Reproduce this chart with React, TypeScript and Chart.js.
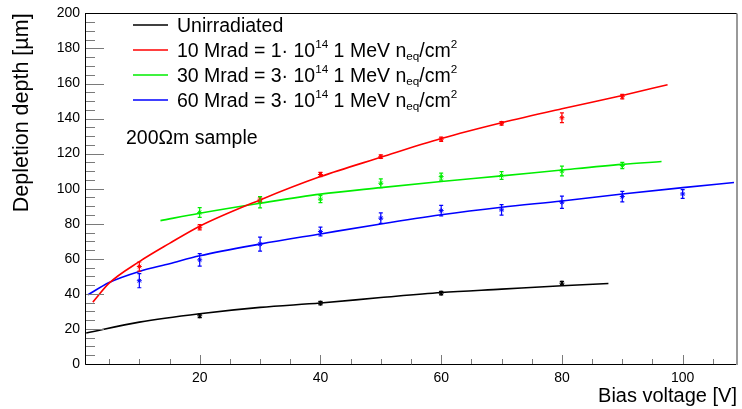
import React, { useEffect, useRef } from 'react';
import { Chart, registerables } from 'chart.js';

Chart.register(...registerables);

const FONT = "'Liberation Sans', Arial, Helvetica, sans-serif";

// ---- axis ticks ----
const xTickValues = [20, 40, 60, 80, 100];
const yTickValues = [0, 20, 40, 60, 80, 100, 120, 140, 160, 180, 200];

// ---- series colours ----
const seriesColors = ['#000000', '#ff0000', '#00ee00', '#0000ff'];

// ---- measured points (bias voltage [V], depth [um], error [um]) ----
const unirrV = [20, 40, 60, 80];
const unirrD = [27.5, 34.7, 40.4, 46.1];
const unirrE = [1, 1, 1, 1];

const rad10V = [10, 20, 30, 40, 50, 60, 70, 80, 90];
const rad10D = [55.6, 78.0, 94.0, 108.1, 118.3, 128.2, 137.3, 140.5, 152.5];
const rad10E = [2.6, 1.5, 1.5, 1.2, 1.0, 1.2, 1.0, 2.8, 1.3];

const rad30V = [20, 30, 40, 50, 60, 70, 80, 90];
const rad30D = [86.4, 92.3, 94.0, 103.1, 106.9, 107.5, 110.1, 113.2];
const rad30E = [2.8, 3.2, 2.0, 2.5, 2.0, 2.2, 2.8, 1.8];

const rad60V = [10, 20, 30, 40, 50, 60, 70, 80, 90, 100];
const rad60D = [47.5, 59.4, 68.4, 75.6, 83.2, 87.5, 87.9, 92.3, 95.5, 97.0];
const rad60E = [4.0, 3.6, 4.0, 2.5, 3.0, 3.0, 3.0, 3.5, 3.0, 2.5];

// ---- fitted curves ----
const unirrFitV = [1.2, 10, 20, 30, 40, 50, 60, 70, 80, 87.7];
const unirrFitD = [17.7, 23.9, 28.7, 32.3, 34.8, 37.9, 40.8, 42.7, 44.6, 45.9];

const rad10FitV = [2.3, 5, 10, 15, 20, 30, 40, 50, 60, 70, 80, 90, 97.5];
const rad10FitD = [35.3, 46.1, 58.4, 68.8, 78.6, 93.6, 106.9, 117.9, 128.6, 137.6, 145.6, 153.2, 159.3];

const rad30FitV = [13.5, 20, 30, 40, 50, 60, 70, 80, 90, 96.5];
const rad30FitD = [81.8, 86.0, 91.7, 96.9, 100.6, 104.1, 107.3, 110.7, 113.9, 115.5];

const rad60FitV = [1.5, 5, 10, 15, 20, 30, 40, 50, 60, 70, 80, 90, 100, 108.5];
const rad60FitD = [39.5, 46.5, 52.8, 57.2, 61.7, 68.4, 74.2, 79.9, 85.1, 89.4, 93.0, 97.0, 100.6, 103.5];

// ---- legend text (n = normal, sup = superscript, sub = subscript) ----
type Part = { t: string; k: 'n' | 'sup' | 'sub' };
const legendEntries: Part[][] = [
  [{ t: 'Unirradiated', k: 'n' }],
  [
    { t: '10 Mrad = 1\u00B7 10', k: 'n' }, { t: '14', k: 'sup' },
    { t: ' 1 MeV n', k: 'n' }, { t: 'eq', k: 'sub' }, { t: '/cm', k: 'n' }, { t: '2', k: 'sup' },
  ],
  [
    { t: '30 Mrad = 3\u00B7 10', k: 'n' }, { t: '14', k: 'sup' },
    { t: ' 1 MeV n', k: 'n' }, { t: 'eq', k: 'sub' }, { t: '/cm', k: 'n' }, { t: '2', k: 'sup' },
  ],
  [
    { t: '60 Mrad = 3\u00B7 10', k: 'n' }, { t: '14', k: 'sup' },
    { t: ' 1 MeV n', k: 'n' }, { t: 'eq', k: 'sub' }, { t: '/cm', k: 'n' }, { t: '2', k: 'sup' },
  ],
];
const sampleNote = '200\u03A9m sample';

const xTitle = 'Bias voltage [V]';
const yTitle = 'Depletion depth [\u00B5m]';

function pts(xs: number[], ys: number[]) {
  return xs.map((x, i) => ({ x, y: ys[i] }));
}

const measured = [
  { v: unirrV, d: unirrD, e: unirrE },
  { v: rad10V, d: rad10D, e: rad10E },
  { v: rad30V, d: rad30D, e: rad30E },
  { v: rad60V, d: rad60D, e: rad60E },
];
const fits = [
  { v: unirrFitV, d: unirrFitD },
  { v: rad10FitV, d: rad10FitD },
  { v: rad30FitV, d: rad30FitD },
  { v: rad60FitV, d: rad60FitD },
];

function drawRich(ctx: CanvasRenderingContext2D, x: number, y: number, parts: Part[], size: number) {
  let cx = x;
  ctx.textBaseline = 'alphabetic';
  ctx.textAlign = 'left';
  for (const p of parts) {
    const fs = p.k === 'n' ? size : size * 0.6;
    ctx.font = `${fs}px ${FONT}`;
    const dy = p.k === 'sup' ? -size * 0.43 : p.k === 'sub' ? size * 0.17 : 0;
    ctx.fillText(p.t, cx, y + dy);
    cx += ctx.measureText(p.t).width;
  }
}

const framePlugin = {
  id: 'rootFrame',
  afterDatasetsDraw(chart: any) {
    const { ctx, scales } = chart;
    const xs = scales.x;
    const ys = scales.y;
    ctx.save();
    // error bars
    measured.forEach((m, si) => {
      ctx.strokeStyle = seriesColors[si];
      ctx.lineWidth = 1.2;
      m.v.forEach((v: number, i: number) => {
        const px = xs.getPixelForValue(v);
        const y1 = ys.getPixelForValue(m.d[i] - m.e[i]);
        const y2 = ys.getPixelForValue(m.d[i] + m.e[i]);
        ctx.beginPath();
        ctx.moveTo(px, y1);
        ctx.lineTo(px, y2);
        ctx.moveTo(px - 2, y1);
        ctx.lineTo(px + 2, y1);
        ctx.moveTo(px - 2, y2);
        ctx.lineTo(px + 2, y2);
        ctx.stroke();
      });
    });
    ctx.restore();
  },
  afterDraw(chart: any) {
    const { ctx, chartArea: a, scales } = chart;
    const xs = scales.x;
    const ys = scales.y;
    ctx.save();
    // ticks
    ctx.strokeStyle = '#7a7a7a';
    ctx.lineWidth = 1;
    ctx.beginPath();
    for (let v = 0; v <= ys.max + 1e-9; v += 5) {
      const py = Math.round(ys.getPixelForValue(v)) + 0.5;
      const len = v % 20 === 0 ? 19 : 10;
      ctx.moveTo(a.left, py);
      ctx.lineTo(a.left + len, py);
    }
    for (let v = Math.ceil(xs.min / 5) * 5; v <= xs.max + 1e-9; v += 5) {
      const px = Math.round(xs.getPixelForValue(v)) + 0.5;
      const len = v % 20 === 0 ? 9 : 5;
      ctx.moveTo(px, a.bottom);
      ctx.lineTo(px, a.bottom - len);
    }
    ctx.stroke();
    // axes
    ctx.strokeStyle = '#000';
    ctx.beginPath();
    ctx.moveTo(Math.round(a.left) + 0.5, a.top);
    ctx.lineTo(Math.round(a.left) + 0.5, a.bottom + 0.5);
    ctx.lineTo(a.right, Math.round(a.bottom) + 0.5);
    ctx.moveTo(a.left, Math.round(a.top) + 0.5);
    ctx.lineTo(a.right, Math.round(a.top) + 0.5);
    ctx.stroke();
    ctx.strokeStyle = '#999';
    ctx.lineWidth = 2;
    ctx.beginPath();
    ctx.moveTo(a.right, a.top);
    ctx.lineTo(a.right, a.bottom + 1);
    ctx.stroke();

    // legend
    const lx0 = 133;
    const lx1 = 168;
    const tx = 177;
    legendEntries.forEach((parts, i) => {
      const base = 31.7 + i * 25;
      ctx.strokeStyle = seriesColors[i];
      ctx.lineWidth = 1.5;
      ctx.beginPath();
      ctx.moveTo(lx0, base - 6.7);
      ctx.lineTo(lx1, base - 6.7);
      ctx.stroke();
      ctx.fillStyle = '#000';
      drawRich(ctx, tx, base, parts, 19.5);
    });
    ctx.fillStyle = '#000';
    drawRich(ctx, 126, 144, [{ t: sampleNote, k: 'n' }], 19.5);
    ctx.restore();
  },
};

export default function App() {
  const ref = useRef<HTMLCanvasElement | null>(null);
  useEffect(() => {
    if (!ref.current) return;
    const datasets: any[] = [];
    fits.forEach((f, i) => {
      datasets.push({
        type: 'line',
        data: pts(f.v, f.d),
        borderColor: seriesColors[i],
        borderWidth: 1.6,
        pointRadius: 0,
        showLine: true,
        fill: false,
        cubicInterpolationMode: 'monotone',
      });
    });
    measured.forEach((m, i) => {
      datasets.push({
        type: 'scatter',
        data: pts(m.v, m.d),
        borderColor: seriesColors[i],
        backgroundColor: seriesColors[i],
        pointStyle: 'star',
        pointRadius: 2.5,
        borderWidth: 1,
        showLine: false,
      });
    });
    const chart = new Chart(ref.current, {
      type: 'scatter',
      data: { datasets },
      plugins: [framePlugin],
      options: {
        animation: false,
        responsive: false,
        events: [],
        layout: { padding: { left: 0, right: 2, top: 13, bottom: 0 } },
        plugins: { legend: { display: false }, tooltip: { enabled: false } },
        scales: {
          x: {
            type: 'linear',
            min: 1,
            max: 109,
            afterBuildTicks: (s: any) => {
              s.ticks = xTickValues.map((value) => ({ value }));
            },
            afterFit: (s: any) => {
              s.height = 45;
            },
            grid: { display: false, drawTicks: false },
            border: { display: false },
            ticks: { color: '#000', font: { family: FONT, size: 14 }, padding: 6, maxRotation: 0, autoSkip: false },
            title: {
              display: true,
              text: xTitle,
              align: 'end',
              color: '#000',
              font: { family: FONT, size: 20 },
              padding: { top: 0, bottom: 1 },
            },
          },
          y: {
            type: 'linear',
            min: 0,
            max: 200,
            afterBuildTicks: (s: any) => {
              s.ticks = yTickValues.map((value) => ({ value }));
            },
            afterFit: (s: any) => {
              s.width = 85;
            },
            grid: { display: false, drawTicks: false },
            border: { display: false },
            ticks: { color: '#000', font: { family: FONT, size: 14 }, padding: 5, autoSkip: false },
            title: {
              display: true,
              text: yTitle,
              align: 'end',
              color: '#000',
              font: { family: FONT, size: 21.5 },
              padding: { top: 9, bottom: 0 },
            },
          },
        },
      } as any,
    });
    return () => chart.destroy();
  }, []);
  return (
    <div style={{ position: 'fixed', left: 0, top: 0, width: 742, height: 409, background: '#fff' }}>
      <canvas ref={ref} width={742} height={409} style={{ display: 'block' }} />
    </div>
  );
}
